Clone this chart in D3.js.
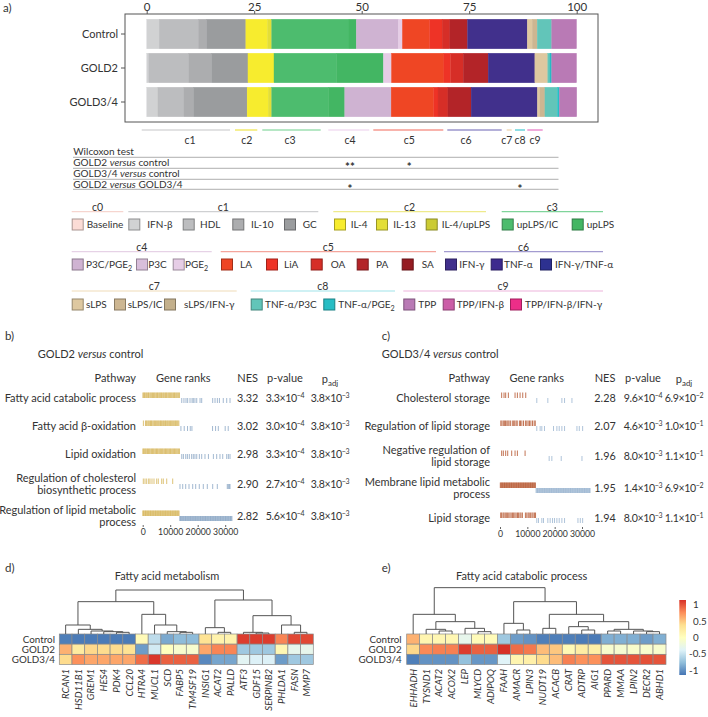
<!DOCTYPE html>
<html><head><meta charset="utf-8">
<script src="https://cdn.jsdelivr.net/npm/d3@7/dist/d3.min.js"></script>
<style>
html,body{margin:0;padding:0;background:#fff;}
svg text{font-family:"Lato","Open Sans",sans-serif;fill:#333;}
</style></head><body>
<svg id="chart" width="708" height="717"></svg>
<script>
// ======================= DATA =======================
const groups = ["Control", "GOLD2", "GOLD3/4"];
const stimuli = ["Baseline","IFN-β","HDL","IL-10","GC","IL-4","IL-13","IL-4/upLPS","upLPS/IC","upLPS",
  "P3C/PGE2","P3C","PGE2","LA","LiA","OA","PA","SA","IFN-γ","TNF-α","IFN-γ/TNF-α",
  "sLPS","sLPS/IC","sLPS/IFN-γ","TNF-α/P3C","TNF-α/PGE2","TPP","TPP/IFN-β","TPP/IFN-β/IFN-γ"];
const stimulusCluster = ["c0","c1","c1","c1","c1","c2","c2","c2","c3","c3",
  "c4","c4","c4","c5","c5","c5","c5","c5","c6","c6","c6",
  "c7","c7","c7","c8","c8","c9","c9","c9"];
const stimulusColors = ["#fbdcd6","#d1d2d3","#bcbdbf","#acadaf","#9a9c9e","#f7ec2e","#e3de37","#cbcb34","#4dbc6e","#43b663",
  "#cfb3d2","#d8bedb","#e6cde6","#ef4624","#ee3326","#d62e27","#b32428","#951c22","#41308c","#3d2a8e","#2d3190",
  "#dec8a0","#cdb691","#c3b08c","#62c5b9","#27bdc4","#b97ab5","#cb5da7","#ec2e88"];
const controlPct = [0,2.9,9.1,1.95,9.1,5.0,1.0,0,18.0,1.7,9.8,0,0.9,6.35,2.9,1.8,4.1,0,13.9,0,0,1.16,1.16,0,3.35,0,5.8,0,0];
const gold2Pct   = [0,0.5,9.3,5.3,8.45,6.05,0,0,14.6,10.85,0,0,1.86,12.2,1.56,2.95,5.8,0,10.85,0,0,3.0,0,0,0.5,0.4,5.8,0,0];
const gold34Pct  = [0,2.6,6.05,2.3,12.4,4.9,0.8,0,13.3,3.7,10.8,0,0,9.9,1.0,2.3,5.4,0,15.4,0,0,0.6,1.16,0,2.9,0.45,4.05,0,0];
const axisTicksA = [0, 25, 50, 75, 100];

const clusterNames = ["c1","c2","c3","c4","c5","c6","c7","c8","c9"];
const clusterLineColors = ["#c5c6c8","#efe54a","#6fcf8c","#ebcdeb","#f1695a","#6b62b4","#efd3a8","#43c9d2","#e673c4"];
const comparisons = [["GOLD2","control"],["GOLD3/4","control"],["GOLD2","GOLD3/4"]];
const starsGOLD2vsControl  = ["","","","**","*","","","",""];
const starsGOLD34vsControl = ["","","","","","","","",""];
const starsGOLD2vsGOLD34   = ["","","","*","","","","*",""];

const legendGroupNames = ["c0","c1","c2","c3","c4","c5","c6","c7","c8","c9"];
const legendLineColors = ["#f6d5cf","#cfd0d2","#eeea8c","#7fd49a","#e6d2e6","#f4a59c","#a39bd0","#f0dcb8","#9fe3ea","#eeb4dc"];

// ---- panel b (GOLD2 versus control) ----
const pathwaysB = ["Fatty acid catabolic process","Fatty acid β-oxidation","Lipid oxidation",
  "Regulation of cholesterol\nbiosynthetic process","Regulation of lipid metabolic\nprocess"];
const nesB = [3.32, 3.02, 2.98, 2.90, 2.82];
const pvalB = [3.3e-4, 3.0e-4, 3.3e-4, 2.7e-4, 5.6e-4];
const padjB = [3.8e-3, 3.8e-3, 3.8e-3, 3.8e-3, 3.8e-3];
const upRanksB = [
  [80,350,640,900,1230,1480,1820,2100,2350,2720,3010,3300,3580,3920,4200,4460,4790,5060,5390,5640,5980,6250,6540,6830,7120,7460,7700,8030,8320,8610,8870,9210,9480,9790,10060,10380,10650,10970,11240,11560,11830,12150,12440,12760,13090,13350],
  [250,1000,1320,1600,1950,2240,2580,2850,3180,3420,3770,4090,4350,4690,4960,5300,5590,5870,6210,6470,6800,7090,7410,7660,8000,8290,8580,8930,9200,9510,9800,10140,10400,10720,11010,11300,11650,11900,12230,12540,12830,13150],
  [60,330,600,920,1170,1490,1760,2090,2380,2640,2980,3250,3560,3860,4130,4450,4740,5020,5350,5610,5940,6230,6520,6810,7130,7390,7720,8010,8290,8620,8900,9190,9500,9790,10100,10360,10680,10980,11260,11570,11860,12160,12450,12770,13060,13380],
  [220,840,1450,2180,2650,3380,4110,5090,5670,6910,7490,8730,10910],
  [40,270,510,800,1020,1290,1540,1790,2070,2310,2580,2840,3090,3350,3620,3880,4120,4400,4650,4910,5170,5420,5700,5950,6210,6460,6730,6990,7240,7510,7770,8020,8290,8540,8800,9060,9330,9580,9840,10110,10360,10630,10880,11140,11400,11650,11920,12180,12430,12700,12960,13230]
];
const downRanksB = [
  [14200,15000,15750,16350,17200,17950,18400,19000,19650,20850,21450,25450,26300,27150,27900,29300,30550,31750],
  [13900,15100,16300,17300,17900,25400,26500,27500,30000,31100],
  [14200,14800,15650,16250,16950,17800,18400,19000,19650,20600,21450,22650,23900,25700,26900,28100,29100,30550,31150,31750],
  [13560,14550,15640,16840,18180,19270,20580,22040,23490,25450,27130,30760,31130,31490,31750],
  [13480,13760,14010,14250,14530,14790,15040,15310,15560,15820,16080,16350,16590,16860,17120,17370,17640,17890,18150,18420,18680,18930,19190,19460,19710,19980,20230,20490,20760,21010,21270,21540,21790,22050,22320,22570,22840,23090,23350,23620,23870,24130,24400,24650,24920,25170,25430,25700,25950,26210,26480,26730,27000,27250,27510,27780,28030,28300,28550,28810,29080,29330,29590,29860,30110,30380,30630,30890,31160,31410,31680,31930,32200,32450]
];
// ---- panel c (GOLD3/4 versus control) ----
const pathwaysC = ["Cholesterol storage","Regulation of lipid storage","Negative regulation of\nlipid storage",
  "Membrane lipid metabolic\nprocess","Lipid storage"];
const nesC = [2.28, 2.07, 1.96, 1.95, 1.94];
const pvalC = [9.6e-4, 4.6e-3, 8.0e-3, 1.4e-3, 8.0e-3];
const padjC = [6.9e-2, 1.0e-1, 1.1e-1, 6.9e-2, 1.1e-1];
const upRanksC = [
  [610,1470,2080,3060,5510,6360,7340,8320,9420],
  [300,700,1200,1600,2000,2500,2900,3300,3800,4500,5000,5400,5900,6300,7100,7500,8000,8600,9300,9800,10300,10800,11300,11900,12500,12900],
  [610,1220,2080,2820,4280,5510,6360,9180],
  [120,380,620,880,1130,1390,1650,1900,2160,2410,2680,2930,3190,3450,3700,3960,4220,4470,4730,4990,5240,5500,5760,6010,6270,6530,6780,7040,7300,7550,7810,8070,8320,8580,8840,9090,9350,9610,9860,10120,10380,10630,10890,11150,11400,11660,11920,12170,12430,12690,12950],
  [250,600,1100,1450,1900,2300,2700,3200,3650,4100,4600,5000,5450,5900,6400,6800,7300,7700,8200,9300,9800,10300,10700,11200,11700,12100,12600,13000]
];
const downRanksC = [
  [13460,17500,22640,23620,26320],
  [13460,14690,15300,16280,19580,20810,21660,22640,23620,28150,29010,30230],
  [17990,18970,22400,29990],
  [13200,13470,13720,13980,14240,14490,14750,15010,15260,15520,15780,16030,16290,16550,16800,17060,17320,17570,17830,18090,18340,18600,18860,19110,19370,19630,19880,20140,20400,20650,20910,21170,21420,21680,21940,22190,22450,22710,22960,23220,23480,23730,23990,24250,24500,24760,25020,25270,25530,25790,26040,26300,26560,26810,27070,27330,27580,27840,28100,28350,28610,28870,29120,29380,29640,29890,30150,30410,30660,30920,31180,31430,31690,31950,32200,32460,32720,32950],
  [13460,14080,15300,15910,17500,18360,19220,19950,20810,21660,22640,23620,28520,29380,30230]
];
const rankTicks = [0, 10000, 20000, 30000];

// ---- panel d heatmap ----
const genesD = ["RCAN1","HSD11B1","GREM1","HES4","PDK4","CCL20","HTRA4","MUCL1","SCD","FABP5","TM4SF19","INSIG1","ACAT2","PALLD","ATF3","GDF15","SERPINB2","PHLDA1","FASN","MMP7"];
const heatD_Control = [-1.1,-1.12,-1.12,-1.12,-1.12,-1.12,0.06,-0.55,-0.88,-0.78,-0.78,0.35,0.15,0.15,1.1,1.1,1.1,0.8,1.05,1.05];
const heatD_GOLD2   = [0.6,0.25,0.42,0.4,0.4,0.35,-0.95,-0.45,0.0,-0.1,-0.1,0.65,0.8,0.8,-0.7,-0.7,-0.7,0.1,-0.3,-0.3];
const heatD_GOLD34  = [0.4,0.75,0.65,0.65,0.65,0.65,0.9,1.12,0.95,0.95,0.95,-1.05,-0.9,-0.9,-0.35,-0.4,-0.4,-0.95,-0.7,-0.7];
const dendroD = [[[0,[1,[2,[3,[4,5,5],7],9],14],27],[6,[7,[8,[9,10,5],7],27],59],97],
                 [[11,[12,13,5],19],[[14,[15,16,3],5],[17,[18,19,5],27],55],102],132];
// ---- panel e heatmap ----
const genesE = ["EHHADH","TYSND1","ACAT2","ACOX2","LEP","MLYCD","ADIPOQ","FAAH","AMACR","LPIN3","NUDT19","ACACB","CRAT","ADTRP","AIG1","PPARD","MMAA","LPIN2","DECR2","ABHD1"];
const heatE_Control = [0.6,0.12,0.1,0.1,-0.3,0.05,0.05,-0.7,-0.95,-1.0,-1.1,-1.1,-1.1,-1.12,-1.12,-0.85,-0.85,-0.85,-0.95,-0.85];
const heatE_GOLD2   = [0.42,0.78,0.82,0.82,1.1,0.95,0.95,1.15,0.9,0.85,0.55,0.5,0.08,0.22,0.2,-0.1,-0.12,-0.08,-0.1,-0.1];
const heatE_GOLD34  = [-1.1,-1.0,-1.0,-1.0,-0.75,-0.98,-0.98,-0.38,0.12,0.18,0.4,0.55,0.82,0.75,0.75,1.0,1.0,1.0,1.02,1.0];
const dendroE = [[0,[[1,[2,3,9],14],[4,[5,6,7],17],37],59],
                 [[7,[8,9,12],32],[[10,11,17],[[12,[13,14,12],22],[[15,16,9],[17,[18,19,7],9],14],37],59],97],139];
const colorbarTicks = [1, 0.5, 0, -0.5, -1];
const heatPalette = ["#4575B4","#91BFDB","#E0F3F8","#FFFFBF","#FEE090","#FC8D59","#D73027"];

// ======================= DRAWING =======================
const svg = d3.select("#chart");

function versusText(sel, pair) {
  sel.append("tspan").text(pair[0] + " ");
  sel.append("tspan").attr("font-style","italic").text("versus");
  sel.append("tspan").text(" " + pair[1]);
}
function richLabel(sel, str) {
  const parts = str.split("PGE2");
  parts.forEach((p, i) => {
    if (p) sel.append("tspan").attr("dy", i > 0 ? -2.5 : null).text(p);
    if (i < parts.length - 1) {
      sel.append("tspan").attr("dy", i > 0 && !p ? -2.5 : null).text("PGE");
      sel.append("tspan").attr("font-size","0.72em").attr("dy", 2.5).text("2");
    }
  });
}
function sciText(sel, v) {
  const [m, e] = v.toExponential(1).split("e");
  sel.attr("letter-spacing", -0.35);
  sel.append("tspan").text(m + "×10");
  sel.append("tspan").attr("font-size","0.66em").attr("dy", -4).text(e.replace("-", "−"));
}

// ---------- Panel a ----------
svg.append("text").attr("x", 3).attr("y", 8).attr("dy","0.35em").attr("font-size", 11.5).text("a)");
const xA = d3.scaleLinear().domain([0, 100]).range([146.7, 576.7]);
const yA = d3.scaleBand().domain(groups).range([17, 119]).paddingInner(0.13).paddingOuter(0.065);
const pctByGroup = [controlPct, gold2Pct, gold34Pct];
const gBars = svg.append("g");
groups.forEach((grp, gi) => {
  let cum = 0;
  const segs = pctByGroup[gi].map((v, i) => { const s = {i, x0: cum, x1: cum + v}; cum += v; return s; })
    .filter(s => s.x1 > s.x0);
  gBars.selectAll(null).data(segs).join("rect")
    .attr("x", d => xA(d.x0)).attr("width", d => xA(d.x1) - xA(d.x0))
    .attr("y", yA(grp)).attr("height", yA.bandwidth())
    .attr("fill", d => stimulusColors[d.i])
    .attr("stroke", d => stimulusColors[d.i]).attr("stroke-width", 0.3);
});
svg.append("rect").attr("x", 125).attr("y", 14).attr("width", 473).attr("height", 108)
  .attr("fill", "none").attr("stroke", "#555").attr("stroke-width", 1);
const axT = svg.append("g").attr("transform", "translate(0,14)")
  .call(d3.axisTop(xA).tickValues(axisTicksA).tickSize(3).tickPadding(0.5));
axT.select(".domain").remove();
axT.selectAll("line").attr("stroke", "#555");
axT.selectAll("text").attr("font-size", 11.5);
const axL = svg.append("g").attr("transform", "translate(125,0)")
  .call(d3.axisLeft(yA).tickSize(4).tickPadding(3));
axL.select(".domain").remove();
axL.selectAll("line").attr("stroke", "#555");
axL.selectAll("text").attr("font-size", 11);

// cluster markers below the bars (layout of the test table columns)
const clusterLineSpan = [[141.7,230],[235,257.3],[262.3,320.7],[328.3,369.3],[373.3,443.3],[447.3,501.7],[506.7,511.7],[515,525],[527.3,542.7]];
const clusterLabelX = [190,246.7,290,350,409.3,466,506.7,520,535];
clusterNames.forEach((c, i) => {
  svg.append("line").attr("x1", clusterLineSpan[i][0]).attr("x2", clusterLineSpan[i][1])
    .attr("y1", 130).attr("y2", 130).attr("stroke", clusterLineColors[i]).attr("stroke-width", 1.2);
  svg.append("text").attr("x", clusterLabelX[i]).attr("y", 140).attr("dy","0.35em")
    .attr("text-anchor","middle").attr("font-size", 10.5).text(c);
});
svg.append("text").attr("x", 73.3).attr("y", 151.5).attr("dy","0.35em").attr("font-size", 10).text("Wilcoxon test");
const wilcoxLineY = [157.3, 168.3, 179.3, 189.3];
wilcoxLineY.forEach(y => svg.append("line").attr("x1", 73).attr("x2", 558.5).attr("y1", y).attr("y2", y)
  .attr("stroke", "#9a9a9a").attr("stroke-width", 0.8));
const starRows = [starsGOLD2vsControl, starsGOLD34vsControl, starsGOLD2vsGOLD34];
comparisons.forEach((cmp, r) => {
  const yc = wilcoxLineY[r] + 5.5;
  const t = svg.append("text").attr("x", 73.3).attr("y", yc).attr("dy","0.35em").attr("font-size", 10);
  versusText(t, cmp);
  starRows[r].forEach((s, ci) => {
    if (s) svg.append("text").attr("x", clusterLabelX[ci]).attr("y", yc + 4.5).attr("dy","0.35em")
      .attr("text-anchor","middle").attr("font-size", 11.5).attr("font-weight", "bold").text(s);
  });
});

// legend
const legendLayout = {
  c0:{row:0, span:[71.7,123.3], items:[[71.7,86.7]]},
  c1:{row:0, span:[128.3,318.3], items:[[128.3,147.3],[182.7,200],[232.3,251],[284,302.7]]},
  c2:{row:0, span:[333.3,486], items:[[334,350.7],[376,393.3],[425.7,441.7]]},
  c3:{row:0, span:[501.7,603], items:[[501.7,516.7],[571.7,586.7]]},
  c4:{row:1, span:[71.7,211.7], items:[[71.7,86],[136,148.3],[172.7,185]]},
  c5:{row:1, span:[220.7,436], items:[[221,240],[266,284],[310.7,330.7],[356.7,376],[401.7,421.7]]},
  c6:{row:1, span:[444,603], items:[[445,459.3],[490.7,504],[540,555]]},
  c7:{row:2, span:[71.7,236.7], items:[[71.7,86],[114,127.7],[164,184]]},
  c8:{row:2, span:[250.7,395], items:[[250.7,265],[323.3,338.3]]},
  c9:{row:2, span:[403.3,603], items:[[403.3,418.3],[442.7,456.7],[510,525]]}
};
const legendRowY = [{label:207.3, line:211.7, box:218.5}, {label:247.5, line:251.7, box:258.5}, {label:286.8, line:291, box:298.5}];
legendGroupNames.forEach((gname, gi) => {
  const L = legendLayout[gname], R = legendRowY[L.row];
  svg.append("line").attr("x1", L.span[0]).attr("x2", L.span[1]).attr("y1", R.line).attr("y2", R.line)
    .attr("stroke", legendLineColors[gi]).attr("stroke-width", 1.2);
  svg.append("text").attr("x", (L.span[0] + L.span[1]) / 2).attr("y", R.label).attr("dy","0.35em")
    .attr("text-anchor","middle").attr("font-size", 10.5).text(gname);
  const idx = stimuli.map((s, i) => i).filter(i => stimulusCluster[i] === gname);
  idx.forEach((si, k) => {
    const [bx, tx] = L.items[k];
    svg.append("rect").attr("x", bx + 0.5).attr("y", R.box + 0.5).attr("width", 11).attr("height", 11)
      .attr("fill", stimulusColors[si]).attr("stroke", d3.color(stimulusColors[si]).darker(1.1)).attr("stroke-width", 1);
    const t = svg.append("text").attr("x", tx).attr("y", R.box + 6).attr("dy","0.35em").attr("font-size", 10);
    richLabel(t, stimuli[si]);
  });
});

// ---------- Panels b and c ----------
function drawGsea(cfg) {
  const g = svg.append("g");
  g.append("text").attr("x", cfg.panelX).attr("y", 335.7).attr("dy","0.35em").attr("font-size", 11.5).text(cfg.panelLabel);
  const tt = g.append("text").attr("x", cfg.titleX).attr("y", 354.3).attr("dy","0.35em").attr("font-size", 11);
  versusText(tt, cfg.comp);
  const hy = 378.3;
  g.append("text").attr("x", cfg.pathX).attr("y", hy).attr("dy","0.35em").attr("text-anchor","end").attr("font-size", 11).text("Pathway");
  g.append("text").attr("x", cfg.rankHeadX).attr("y", hy).attr("dy","0.35em").attr("text-anchor","middle").attr("font-size", 11).text("Gene ranks");
  g.append("text").attr("x", cfg.nesX).attr("y", hy).attr("dy","0.35em").attr("text-anchor","middle").attr("font-size", 11).text("NES");
  g.append("text").attr("x", cfg.pX).attr("y", hy).attr("dy","0.35em").attr("text-anchor","middle").attr("font-size", 11).text("p-value");
  const ph = g.append("text").attr("x", cfg.padjX).attr("y", hy + 1).attr("dy","0.35em").attr("text-anchor","middle").attr("font-size", 11);
  ph.append("tspan").text("p");
  ph.append("tspan").attr("font-size","0.72em").attr("dy", 3).text("adj");

  const lines = cfg.pathways.map(p => p.split("\n"));
  const ys = [398];
  for (let i = 1; i < lines.length; i++) ys.push(ys[i-1] + 24 + 4 * (lines[i-1].length + lines[i].length) / 2);
  const xR = d3.scaleLinear().domain([0, 30000]).range(cfg.rankRange);
  lines.forEach((ls, i) => {
    const yc = ys[i];
    ls.forEach((l, k) => {
      g.append("text").attr("x", cfg.pathX).attr("y", yc + (k - (ls.length - 1) / 2) * 12.2).attr("dy","0.35em")
        .attr("text-anchor","end").attr("font-size", 11).text(l);
    });
    g.selectAll(null).data(cfg.up[i]).join("line")
      .attr("x1", d => xR(d)).attr("x2", d => xR(d)).attr("y1", yc - 5.5).attr("y2", yc)
      .attr("stroke", cfg.upColor).attr("stroke-width", 1).attr("stroke-opacity", 0.8);
    g.selectAll(null).data(cfg.down[i]).join("line")
      .attr("x1", d => xR(d)).attr("x2", d => xR(d)).attr("y1", yc).attr("y2", yc + 5)
      .attr("stroke", cfg.downColor).attr("stroke-width", 0.9).attr("stroke-opacity", 0.8);
    g.append("text").attr("x", cfg.nesX).attr("y", yc).attr("dy","0.35em").attr("text-anchor","middle").attr("font-size", 10.8).text(cfg.nes[i].toFixed(2));
    sciText(g.append("text").attr("x", cfg.pX).attr("y", yc).attr("dy","0.35em").attr("text-anchor","middle").attr("font-size", 10.6), cfg.pval[i]);
    sciText(g.append("text").attr("x", cfg.padjX).attr("y", yc).attr("dy","0.35em").attr("text-anchor","middle").attr("font-size", 10.6), cfg.padj[i]);
  });
  const ax = g.append("g").attr("transform", `translate(0,${ys[ys.length-1] + 9})`)
    .call(d3.axisBottom(xR).tickValues(rankTicks).tickFormat(d3.format("d")).tickSize(2).tickPadding(2));
  ax.select(".domain").remove();
  ax.selectAll("line").attr("stroke", "#666");
  ax.selectAll("text").attr("font-size", 8.7);
}
drawGsea({panelLabel:"b)", panelX:5, titleX:37.7, comp:comparisons[0], pathX:136, rankHeadX:183.3,
  nesX:247.7, pX:285, padjX:330, rankRange:[142.7,225.2], pathways:pathwaysB, nes:nesB, pval:pvalB, padj:padjB,
  up:upRanksB, down:downRanksB, upColor:"#d6b458", downColor:"#7f9dbf"});
drawGsea({panelLabel:"c)", panelX:381.7, titleX:381.7, comp:comparisons[1], pathX:490, rankHeadX:536.7,
  nesX:605, pX:643, padjX:684, rankRange:[500,582], pathways:pathwaysC, nes:nesC, pval:pvalC, padj:padjC,
  up:upRanksC, down:downRanksC, upColor:"#b4532b", downColor:"#8fadcc"});

// ---------- Panels d and e ----------
const heatColor = d3.scaleLinear()
  .domain(heatPalette.map((c, i) => -1.15 + i * 2.3 / (heatPalette.length - 1)))
  .range(heatPalette).clamp(true);
const hScale = d3.scaleLinear().domain([0, 132]).range([634, 590]);

function drawDendro(g, node, x) {
  if (typeof node === "number") return {cx: x(node) + x.bandwidth() / 2, y: hScale(0)};
  const a = drawDendro(g, node[0], x), b = drawDendro(g, node[1], x);
  const yN = hScale(node[2]);
  g.append("path").attr("d", `M${a.cx},${a.y}V${yN}H${b.cx}V${b.y}`)
    .attr("fill", "none").attr("stroke", "#555").attr("stroke-width", 1);
  return {cx: (a.cx + b.cx) / 2, y: yN};
}
function drawHeatmap(cfg) {
  const g = svg.append("g");
  g.append("text").attr("x", cfg.panelX).attr("y", 568).attr("dy","0.35em").attr("font-size", 11.5).text(cfg.panelLabel);
  g.append("text").attr("x", cfg.titleX).attr("y", 576).attr("dy","0.35em").attr("text-anchor","middle").attr("font-size", 11).text(cfg.title);
  const x = d3.scaleBand().domain(d3.range(cfg.genes.length)).range(cfg.xRange);
  const y = d3.scaleBand().domain(groups).range([634, 664.5]);
  cfg.rows.forEach((vals, r) => {
    g.selectAll(null).data(vals).join("rect")
      .attr("x", (d, i) => x(i)).attr("y", y(groups[r])).attr("width", x.bandwidth()).attr("height", y.bandwidth())
      .attr("fill", d => heatColor(d)).attr("stroke", "#8a8a8a").attr("stroke-width", 0.7);
    g.append("text").attr("x", cfg.rowLabelX).attr("y", y(groups[r]) + y.bandwidth() / 2).attr("dy","0.35em")
      .attr("text-anchor","end").attr("font-size", 9.8).text(groups[r]);
  });
  cfg.genes.forEach((gn, i) => {
    const cx = x(i) + x.bandwidth() / 2;
    g.append("text").attr("transform", `translate(${cx},${669}) rotate(-90)`).attr("dy","0.35em")
      .attr("text-anchor","end").attr("font-size", 9.6).attr("font-style","italic").text(gn);
  });
  drawDendro(g, cfg.dendro, x);
}
drawHeatmap({panelLabel:"d)", panelX:5, title:"Fatty acid metabolism", titleX:167, genes:genesD,
  xRange:[59.3,313.3], rowLabelX:55, rows:[heatD_Control, heatD_GOLD2, heatD_GOLD34], dendro:dendroD});
drawHeatmap({panelLabel:"e)", panelX:381.7, title:"Fatty acid catabolic process", titleX:521.7, genes:genesE,
  xRange:[406.7,666], rowLabelX:401.7, rows:[heatE_Control, heatE_GOLD2, heatE_GOLD34], dendro:dendroE});

// colorbar
const cbY = d3.scaleLinear().domain([-1.15, 1.15]).range([675, 600]);
const defs = svg.append("defs");
const grad = defs.append("linearGradient").attr("id", "cbgrad").attr("x1", 0).attr("x2", 0).attr("y1", 1).attr("y2", 0);
heatPalette.forEach((c, i) => grad.append("stop").attr("offset", i / (heatPalette.length - 1)).attr("stop-color", c));
svg.append("rect").attr("x", 679.3).attr("y", 600).attr("width", 6.7).attr("height", 75).attr("fill", "url(#cbgrad)");
colorbarTicks.forEach(v => {
  svg.append("text").attr("x", v < 0 ? 689 : 693).attr("y", cbY(v)).attr("dy","0.35em").attr("font-size", 9.8).text(v);
});
</script>
</body></html>
